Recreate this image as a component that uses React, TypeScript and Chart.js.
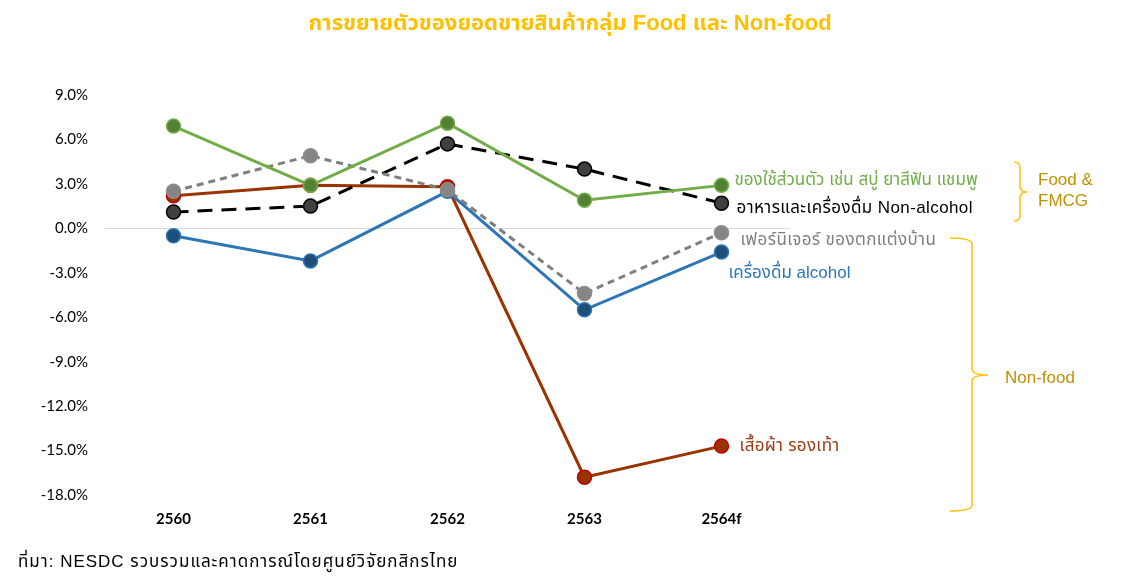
import React, { useEffect, useRef } from "react";
import { Chart, registerables } from "chart.js";

Chart.register(...registerables);

// Years on the category axis
const categories = ["2560", "2561", "2562", "2563", "2564f"];

// Growth rates (%) by product group
const personalCare = [6.9, 2.9, 7.1, 1.9, 2.9];
const foodNonAlcohol = [1.1, 1.5, 5.7, 4.0, 1.7];
const furniture = [2.5, 4.9, 2.6, -4.4, -0.3];
const alcohol = [-0.5, -2.2, 2.5, -5.5, -1.6];
const apparel = [2.2, 2.9, 2.8, -16.8, -14.7];

// Y axis range and step
const yMin = -18;
const yMax = 9;
const yStep = 3;

// End-of-line labels
const seriesLabels = [
  "ของใช้ส่วนตัว เช่น สบู่ ยาสีฟัน แชมพู",
  "อาหารและเครื่องดื่ม Non-alcohol",
  "เฟอร์นิเจอร์ ของตกแต่งบ้าน",
  "เครื่องดื่ม alcohol",
  "เสื้อผ้า รองเท้า",
];

const titleText = "การขยายตัวของยอดขายสินค้ากลุ่ม Food และ Non-food";
const sourceText = "ที่มา: NESDC รวบรวมและคาดการณ์โดยศูนย์วิจัยกสิกรไทย";
const groupFood = ["Food &", "FMCG"];
const groupNonFood = "Non-food";

const TEXT_FONT = '"Liberation Sans", Arial, "Noto Sans Thai", Tahoma, "Noto Sans", "DejaVu Sans", sans-serif';
const AXIS_FONT = 'Lato, "Open Sans", "Liberation Sans", sans-serif';

const GREEN = "#70AD47";
const BLACK = "#000000";
const GREY = "#7F7F7F";
const BLUE = "#2E75B6";
const BROWN = "#993300";
const GOLD = "#FFC000";
const DARK_GOLD = "#BF9000";

// label offsets (px) from the last point of each series
const labelStyles = [
  { color: GREEN, dx: 13, dy: -5, spacing: 0 },
  { color: BLACK, dx: 15, dy: 5, spacing: 0.4 },
  { color: GREY, dx: 19, dy: 8, spacing: 0.4 },
  { color: BLUE, dx: 7, dy: 21, spacing: 0 },
  { color: "#9C3A12", dx: 18, dy: 0, spacing: 0.3 },
];

function drawRightBrace(
  ctx: CanvasRenderingContext2D,
  xLeft: number,
  xMid: number,
  xTip: number,
  yTop: number,
  yTipPos: number,
  yBottom: number
) {
  const r = 6;
  ctx.beginPath();
  ctx.moveTo(xLeft, yTop);
  ctx.quadraticCurveTo(xMid, yTop, xMid, yTop + r);
  ctx.lineTo(xMid, yTipPos - r);
  ctx.quadraticCurveTo(xMid, yTipPos, xTip, yTipPos);
  ctx.quadraticCurveTo(xMid, yTipPos, xMid, yTipPos + r);
  ctx.lineTo(xMid, yBottom - r);
  ctx.quadraticCurveTo(xMid, yBottom, xLeft, yBottom);
  ctx.stroke();
}

const annotationsPlugin = {
  id: "annotations",
  afterDraw(chart: any) {
    const { ctx, scales } = chart;
    const xs = scales.x;
    const ys = scales.y;
    ctx.save();

    // title
    ctx.fillStyle = GOLD;
    ctx.font = `bold 22px ${TEXT_FONT}`;
    ctx.textAlign = "center";
    ctx.textBaseline = "middle";
    ctx.fillText(titleText, 570, 24);

    // end-of-line labels
    const lastIdx = categories.length - 1;
    const series = [personalCare, foodNonAlcohol, furniture, alcohol, apparel];
    ctx.textAlign = "left";
    ctx.font = `17px ${TEXT_FONT}`;
    series.forEach((s, i) => {
      const st = labelStyles[i];
      const x = xs.getPixelForValue(lastIdx) + st.dx;
      const y = ys.getPixelForValue(s[lastIdx]) + st.dy;
      ctx.fillStyle = st.color;
      (ctx as any).letterSpacing = `${st.spacing}px`;
      ctx.fillText(seriesLabels[i], x, y);
    });
    (ctx as any).letterSpacing = "0px";

    // group braces
    ctx.strokeStyle = GOLD;
    ctx.lineWidth = 1.5;
    drawRightBrace(ctx, 1014, 1020, 1027, 162, 192, 221);
    drawRightBrace(ctx, 950, 972, 988, 238, 375, 511);

    ctx.fillStyle = DARK_GOLD;
    ctx.font = `17px "Liberation Sans", Arial, sans-serif`;
    ctx.fillText(groupFood[0], 1038, 180);
    ctx.fillText(groupFood[1], 1038, 201);
    ctx.fillText(groupNonFood, 1005, 378);

    // source note
    ctx.fillStyle = "#000";
    ctx.font = `17px ${TEXT_FONT}`;
    (ctx as any).letterSpacing = "1px";
    ctx.fillText(sourceText, 18, 562);
    (ctx as any).letterSpacing = "0px";

    ctx.restore();
  },
};

export default function App() {
  const canvasRef = useRef<HTMLCanvasElement | null>(null);

  useEffect(() => {
    if (!canvasRef.current) return;
    const common = {
      tension: 0,
      borderWidth: 3,
      pointRadius: 7,
      pointHoverRadius: 7,
      pointBorderWidth: 1.5,
    };
    const chart = new Chart(canvasRef.current, {
      type: "line",
      data: {
        labels: categories,
        datasets: [
          {
            ...common,
            label: seriesLabels[0],
            data: personalCare,
            borderColor: GREEN,
            pointBackgroundColor: "#548235",
            pointBorderColor: GREEN,
          },
          {
            ...common,
            label: seriesLabels[2],
            data: furniture,
            borderColor: GREY,
            borderDash: [7, 5],
            pointBackgroundColor: "#858585",
            pointBorderColor: "#8C8C8C",
          },
          {
            ...common,
            label: seriesLabels[1],
            data: foodNonAlcohol,
            borderColor: BLACK,
            borderDash: [15, 9],
            pointBackgroundColor: "#404040",
            pointBorderColor: BLACK,
          },
          {
            ...common,
            label: seriesLabels[3],
            data: alcohol,
            borderColor: BLUE,
            pointBackgroundColor: "#1F4E79",
            pointBorderColor: BLUE,
          },
          {
            ...common,
            label: seriesLabels[4],
            data: apparel,
            borderColor: BROWN,
            pointBackgroundColor: BROWN,
            pointBorderColor: "#C00000",
          },
        ],
      },
      options: {
        responsive: false,
        animation: false,
        layout: { padding: { top: 95, right: 334, bottom: 41, left: 0 } },
        plugins: {
          legend: { display: false },
          title: { display: false },
          tooltip: { enabled: false },
        },
        scales: {
          x: {
            offset: true,
            grid: { display: false, drawTicks: false },
            border: { display: false },
            ticks: {
              color: "#000",
              padding: 15,
              font: { family: AXIS_FONT, size: 15, weight: "bold" },
            },
            afterFit: (scale: any) => {
              scale.height = 40;
            },
          },
          y: {
            min: yMin,
            max: yMax,
            border: { display: false },
            grid: {
              drawTicks: false,
              color: (c: any) => (c.tick && c.tick.value === 0 ? "#D9D9D9" : "transparent"),
              lineWidth: 1,
            },
            ticks: {
              stepSize: yStep,
              color: "#000",
              padding: 17,
              font: { family: AXIS_FONT, size: 15 },
              callback: (v: any) => `${Number(v).toFixed(1)}%`,
            },
            afterFit: (scale: any) => {
              scale.width = 105;
            },
          },
        },
      },
      plugins: [annotationsPlugin],
    } as any);
    return () => chart.destroy();
  }, []);

  return (
    <div style={{ position: "fixed", left: 0, top: 0, width: 1124, height: 576, background: "#fff" }}>
      <canvas ref={canvasRef} width={1124} height={576} />
    </div>
  );
}
